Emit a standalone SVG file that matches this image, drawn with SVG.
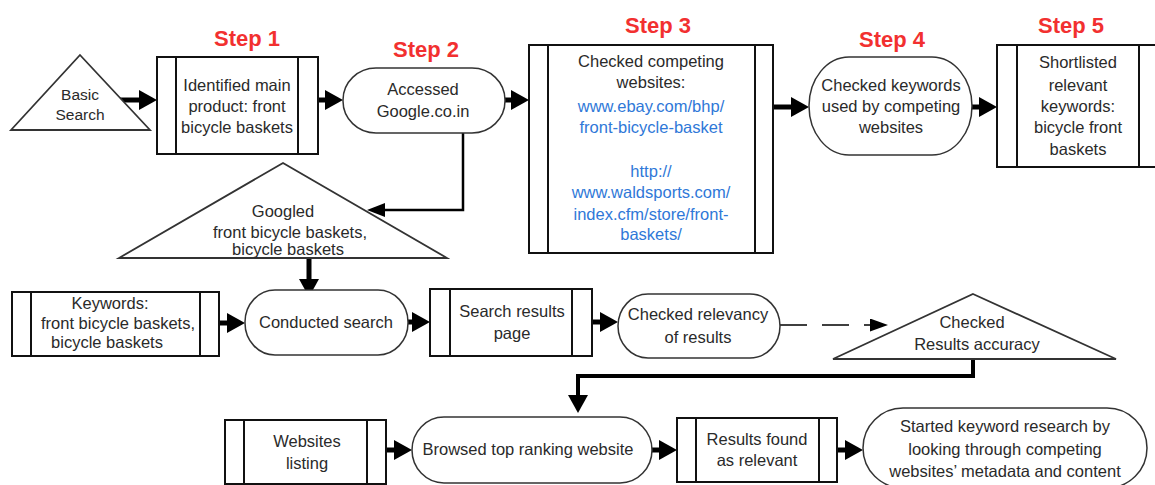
<svg xmlns="http://www.w3.org/2000/svg" width="1155" height="485" viewBox="0 0 1155 485">
<style>
.box{fill:#fff;stroke:#111;stroke-width:2}
.inner{stroke:#111;stroke-width:2}
.term{fill:#fff;stroke:#333;stroke-width:1.5}
.tri{fill:#fff;stroke:#333;stroke-width:1.8}
.t{font-family:"Liberation Sans",Arial,sans-serif;font-size:16.5px;fill:#2a2a2a;text-anchor:middle}
.u{fill:#2f78d8}
.step{font-family:"Liberation Sans",Arial,sans-serif;font-size:22px;font-weight:bold;fill:#f23030;text-anchor:middle}
.thick{fill:none;stroke:#000;stroke-width:5}
.mid{fill:none;stroke:#000;stroke-width:2.5}
.bent{fill:none;stroke:#000;stroke-width:4}
.dash{fill:none;stroke:#000;stroke-width:1.5;stroke-dasharray:27 15}
</style>
<defs>
<marker id="ab" markerUnits="userSpaceOnUse" markerWidth="18" markerHeight="20" refX="0" refY="10" orient="auto"><path d="M0,0 L18,10 L0,20 z" fill="#000"/></marker>
<marker id="am" markerUnits="userSpaceOnUse" markerWidth="18" markerHeight="14" refX="0" refY="7" orient="auto"><path d="M0,0 L18,7 L0,14 z" fill="#000"/></marker>
<marker id="as" markerUnits="userSpaceOnUse" markerWidth="18" markerHeight="13" refX="0" refY="6.5" orient="auto"><path d="M0,0 L18,6.5 L0,13 z" fill="#000"/></marker>
</defs>
<rect width="1155" height="485" fill="#fff"/>

<g id="steps">
<text class="step" x="247" y="46">Step 1</text>
<text class="step" x="426" y="57">Step 2</text>
<text class="step" x="658" y="33">Step 3</text>
<text class="step" x="892" y="47">Step 4</text>
<text class="step" x="1071" y="33">Step 5</text>
</g>

<g id="connectors">
<path class="thick" d="M118,100 H139" marker-end="url(#ab)"/>
<path class="thick" d="M318,100 H325" marker-end="url(#ab)"/>
<path class="thick" d="M505,100 H511" marker-end="url(#ab)"/>
<path class="thick" d="M773,107 H791" marker-end="url(#ab)"/>
<path class="thick" d="M972,107 H979" marker-end="url(#ab)"/>
<path class="mid" d="M463,133 V210 H385" marker-end="url(#am)"/>
<path class="thick" d="M309,258 V279" marker-end="url(#ab)"/>
<path class="thick" d="M219,323 H227" marker-end="url(#ab)"/>
<path class="thick" d="M408,322 H412" marker-end="url(#ab)"/>
<path class="thick" d="M592,322 H600" marker-end="url(#ab)"/>
<path class="dash" d="M780,325 H870" marker-end="url(#as)"/>
<path class="bent" d="M973,359 V376 H578 V395" marker-end="url(#ab)"/>
<path class="thick" d="M386,450 H394" marker-end="url(#ab)"/>
<path class="thick" d="M652,450 H659" marker-end="url(#ab)"/>
<path class="thick" d="M837,450 H845" marker-end="url(#ab)"/>
</g>

<g id="basic-search">
<polygon class="tri" points="80,55 150,130 11,130"/>
<text class="t" x="80" y="100" style="font-size:15.5px">Basic</text>
<text class="t" x="80" y="120" style="font-size:15.5px">Search</text>
</g>

<g id="step1">
<rect class="box" x="157" y="57" width="161" height="97"/>
<line class="inner" x1="176" y1="57" x2="176" y2="154"/>
<line class="inner" x1="298" y1="57" x2="298" y2="154"/>
<text class="t" x="237" y="91">Identified main</text>
<text class="t" x="237" y="112">product: front</text>
<text class="t" x="237" y="133">bicycle baskets</text>
</g>

<g id="step2">
<rect class="term" x="343" y="68" width="162" height="65" rx="33" ry="32"/>
<text class="t" x="423" y="95">Accessed</text>
<text class="t" x="423" y="117">Google.co.in</text>
</g>

<g id="step3">
<rect class="box" x="529" y="45" width="244" height="208"/>
<line class="inner" x1="548" y1="45" x2="548" y2="253"/>
<line class="inner" x1="755" y1="45" x2="755" y2="253"/>
<text class="t" x="651" y="67">Checked competing</text>
<text class="t" x="651" y="88">websites:</text>
<text class="t u" x="651" y="112">www.ebay.com/bhp/</text>
<text class="t u" x="651" y="133">front-bicycle-basket</text>
<text class="t u" x="651" y="177">http://</text>
<text class="t u" x="651" y="198">www.waldsports.com/</text>
<text class="t u" x="651" y="220">index.cfm/store/front-</text>
<text class="t u" x="651" y="240">baskets/</text>
</g>

<g id="step4">
<rect class="term" x="809" y="57" width="163" height="98" rx="40" ry="49"/>
<text class="t" x="891" y="91">Checked keywords</text>
<text class="t" x="891" y="112">used by competing</text>
<text class="t" x="891" y="133">websites</text>
</g>

<g id="step5">
<rect class="box" x="997" y="45" width="163" height="122"/>
<line class="inner" x1="1017" y1="45" x2="1017" y2="167"/>
<line class="inner" x1="1139" y1="45" x2="1139" y2="167"/>
<text class="t" x="1078" y="68">Shortlisted</text>
<text class="t" x="1078" y="91">relevant</text>
<text class="t" x="1078" y="112">keywords:</text>
<text class="t" x="1078" y="133">bicycle front</text>
<text class="t" x="1078" y="155">baskets</text>
</g>

<g id="googled">
<polygon class="tri" points="283,163 447,258 119,258"/>
<text class="t" x="283" y="217">Googled</text>
<text class="t" x="290" y="238">front bicycle baskets,</text>
<text class="t" x="288" y="255">bicycle baskets</text>
</g>

<g id="keywords">
<rect class="box" x="12" y="292" width="207" height="64"/>
<line class="inner" x1="31" y1="292" x2="31" y2="356"/>
<line class="inner" x1="200" y1="292" x2="200" y2="356"/>
<text class="t" x="110" y="309">Keywords:</text>
<text class="t" x="118" y="329">front bicycle baskets,</text>
<text class="t" x="107" y="348">bicycle baskets</text>
</g>

<g id="conducted-search">
<rect class="term" x="245" y="290" width="163" height="65" rx="30" ry="32"/>
<text class="t" x="326" y="328">Conducted search</text>
</g>

<g id="search-results">
<rect class="box" x="430" y="289" width="162" height="67"/>
<line class="inner" x1="450" y1="289" x2="450" y2="356"/>
<line class="inner" x1="572" y1="289" x2="572" y2="356"/>
<text class="t" x="512" y="317">Search results</text>
<text class="t" x="512" y="339">page</text>
</g>

<g id="checked-relevancy">
<rect class="term" x="618" y="294" width="162" height="64" rx="30" ry="32"/>
<text class="t" x="698" y="320">Checked relevancy</text>
<text class="t" x="698" y="343">of results</text>
</g>

<g id="checked-accuracy">
<polygon class="tri" points="973,294 1116,359 833,359"/>
<text class="t" x="972" y="328">Checked</text>
<text class="t" x="977" y="350">Results accuracy</text>
</g>

<g id="websites-listing">
<rect class="box" x="225" y="420" width="161" height="64"/>
<line class="inner" x1="244" y1="420" x2="244" y2="484"/>
<line class="inner" x1="367" y1="420" x2="367" y2="484"/>
<text class="t" x="307" y="447">Websites</text>
<text class="t" x="307" y="469">listing</text>
</g>

<g id="browsed">
<rect class="term" x="412" y="417" width="240" height="66" rx="32" ry="33"/>
<text class="t" x="528" y="455">Browsed top ranking website</text>
</g>

<g id="results-found">
<rect class="box" x="677" y="418" width="160" height="64"/>
<line class="inner" x1="696" y1="418" x2="696" y2="482"/>
<line class="inner" x1="819" y1="418" x2="819" y2="482"/>
<text class="t" x="757" y="445">Results found</text>
<text class="t" x="757" y="466">as relevant</text>
</g>

<g id="started">
<rect class="term" x="863" y="408" width="284" height="80" rx="40" ry="40"/>
<text class="t" x="1005" y="432">Started keyword research by</text>
<text class="t" x="1005" y="455">looking through competing</text>
<text class="t" x="1005" y="477">websites’ metadata and content</text>
</g>
</svg>
